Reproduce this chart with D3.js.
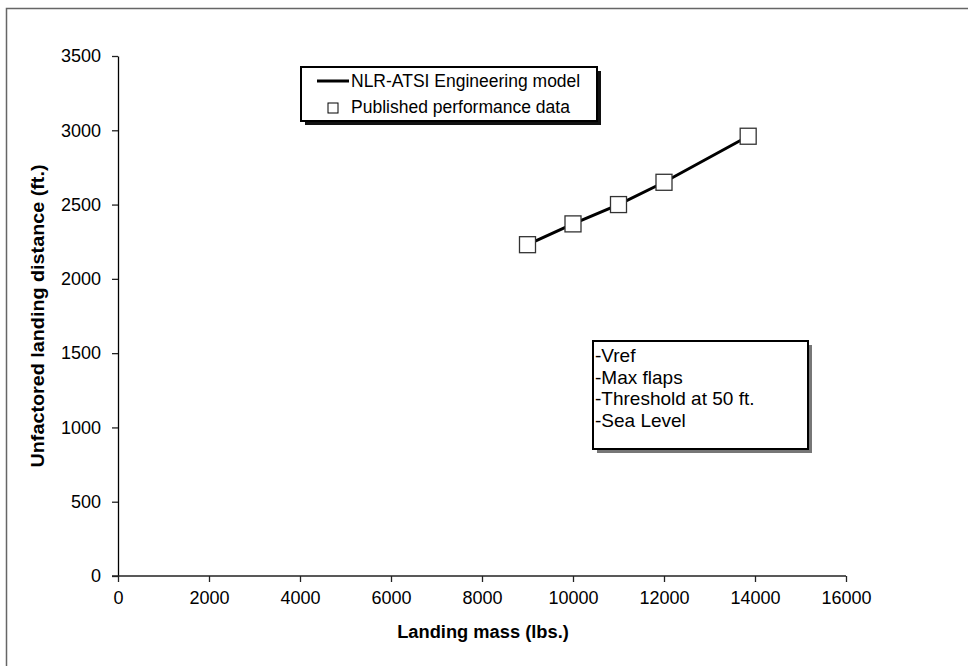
<!DOCTYPE html>
<html>
<head>
<meta charset="utf-8">
<script src="https://cdn.jsdelivr.net/npm/d3@7"></script>
<style>
  body { margin: 0; background: #fff; }
  text { font-family: "Liberation Sans", Arial, sans-serif; fill: #000; }
</style>
</head>
<body>
<div id="wrapper"></div>
<script>
/* landing distance vs landing mass
   published points + the engineering model line */

// data
const massLbs = [9000, 10000, 11000, 12000, 13850]
const publishedFt = [2230, 2370, 2500, 2650, 2960]
const modelFt = [2230, 2370, 2500, 2650, 2960]

const xTicks = [0, 2000, 4000, 6000, 8000, 10000, 12000, 14000, 16000]
const yTicks = [0, 500, 1000, 1500, 2000, 2500, 3000, 3500]

const legendLabels = ["NLR-ATSI Engineering model", "Published performance data"]
const noteLines = ["-Vref", "-Max flaps", "-Threshold at 50 ft.", "-Sea Level"]

const xTitle = "Landing mass (lbs.)"
const yTitle = "Unfactored landing distance (ft.)"

function drawChart() {
  /* step 1: dimensions */
  let dimensions = {
    width: 968,
    height: 666,
    margin: { top: 56, right: 122, bottom: 90, left: 118 },
  }
  dimensions.boundedWidth = dimensions.width - dimensions.margin.left - dimensions.margin.right
  dimensions.boundedHeight = dimensions.height - dimensions.margin.top - dimensions.margin.bottom

  /* step 2: canvas */
  const wrapper = d3.select("#wrapper")
    .append("svg")
      .attr("width", dimensions.width)
      .attr("height", dimensions.height)

  // outer chart frame (runs off the right / bottom edge)
  wrapper.append("rect")
      .attr("x", 6.5)
      .attr("y", 8.5)
      .attr("width", dimensions.width)
      .attr("height", dimensions.height)
      .attr("fill", "none")
      .attr("stroke", "#666")
      .attr("stroke-width", 1.5)

  const bounds = wrapper.append("g")
      .attr("transform", `translate(${dimensions.margin.left}, ${dimensions.margin.top})`)

  /* step 3: scales */
  const xScale = d3.scaleLinear()
    .domain([0, 16000])
    .range([0, dimensions.boundedWidth])

  const yScale = d3.scaleLinear()
    .domain([0, 3500])
    .range([dimensions.boundedHeight, 0])

  /* step 4: axes */
  const yAxis = d3.axisLeft(yScale)
    .tickValues(yTicks)
    .tickSizeInner(6)
    .tickSizeOuter(0)
    .tickPadding(11)
    .tickFormat(d3.format("d"))

  const yAxisGroup = bounds.append("g").call(yAxis)

  const xAxis = d3.axisBottom(xScale)
    .tickValues(xTicks)
    .tickSizeInner(6)
    .tickSizeOuter(0)
    .tickPadding(9)
    .tickFormat(d3.format("d"))

  const xAxisGroup = bounds.append("g")
      .attr("transform", `translate(0, ${dimensions.boundedHeight})`)
      .call(xAxis)

  // excel style: the x axis line reaches back to the end of the 0 tick
  xAxisGroup.select(".domain").remove()
  xAxisGroup.append("line")
      .attr("x1", -6)
      .attr("x2", dimensions.boundedWidth)
      .attr("stroke", "#333")
      .attr("stroke-width", 1.3)

  ;[xAxisGroup, yAxisGroup].forEach(function(g){
    g.selectAll("text")
      .style("font-size", "18px")
      .attr("fill", "#000")
    g.selectAll("line").attr("stroke", "#222").attr("stroke-width", 1.3)
    g.select(".domain").attr("stroke", "#000").attr("stroke-width", 1.3)
  })

  // axis titles
  bounds.append("text")
      .attr("x", dimensions.boundedWidth / 2 + 1)
      .attr("y", dimensions.boundedHeight + 62)
      .attr("text-anchor", "middle")
      .style("font-size", "18.3px")
      .style("font-weight", "bold")
      .text(xTitle)

  bounds.append("text")
      .attr("transform", `translate(-74, ${dimensions.boundedHeight / 2}) rotate(-90)`)
      .attr("text-anchor", "middle")
      .attr("textLength", 303)
      .attr("lengthAdjust", "spacingAndGlyphs")
      .style("font-size", "19px")
      .style("font-weight", "bold")
      .text(yTitle)

  /* step 5: the model line and the published points */
  const lineGenerator = d3.line()
    .x(function(d, i){ return xScale(massLbs[i]) })
    .y(function(d){ return yScale(d) })

  bounds.append("path")
      .datum(modelFt)
      .attr("d", lineGenerator)
      .attr("fill", "none")
      .attr("stroke", "#000")
      .attr("stroke-width", 3)

  const markerSize = 16
  bounds.selectAll(".point")
    .data(publishedFt)
    .join("rect")
      .attr("class", "point")
      .attr("x", function(d, i){ return xScale(massLbs[i]) - markerSize / 2 })
      .attr("y", function(d){ return yScale(d) - markerSize / 2 })
      .attr("width", markerSize)
      .attr("height", markerSize)
      .attr("fill", "#fff")
      .attr("stroke", "#333")
      .attr("stroke-width", 1.3)

  /* step 6: legend box with a drop shadow */
  const legend = wrapper.append("g").attr("transform", "translate(301, 67)")
  const legendW = 296, legendH = 54

  legend.append("rect")
      .attr("x", 4).attr("y", 4)
      .attr("width", legendW).attr("height", legendH)
      .attr("fill", "#111")
  legend.append("rect")
      .attr("width", legendW).attr("height", legendH)
      .attr("fill", "#fff")
      .attr("stroke", "#000")
      .attr("stroke-width", 2)

  legend.append("line")
      .attr("x1", 16).attr("x2", 48)
      .attr("y1", 14).attr("y2", 14)
      .attr("stroke", "#000")
      .attr("stroke-width", 3)
  legend.append("rect")
      .attr("x", 27).attr("y", 36)
      .attr("width", 10).attr("height", 10)
      .attr("fill", "#fff")
      .attr("stroke", "#000")
      .attr("stroke-width", 1)

  legend.selectAll(".legend-label")
    .data(legendLabels)
    .join("text")
      .attr("class", "legend-label")
      .attr("x", 50)
      .attr("y", function(d, i){ return 20 + i * 26 })
      .style("font-size", "17.5px")
      .text(function(d){ return d })

  /* step 7: conditions note */
  const note = wrapper.append("g").attr("transform", "translate(593, 341)")
  const noteW = 215, noteH = 108

  note.append("rect")
      .attr("x", 4).attr("y", 4)
      .attr("width", noteW).attr("height", noteH)
      .attr("fill", "#777")
  note.append("rect")
      .attr("width", noteW).attr("height", noteH)
      .attr("fill", "#fff")
      .attr("stroke", "#000")
      .attr("stroke-width", 2)

  note.selectAll(".note-line")
    .data(noteLines)
    .join("text")
      .attr("class", "note-line")
      .attr("x", 2)
      .attr("y", function(d, i){ return 21 + i * 21.7 })
      .style("font-size", "19px")
      .text(function(d){ return d })
}
drawChart()
</script>
</body>
</html>
